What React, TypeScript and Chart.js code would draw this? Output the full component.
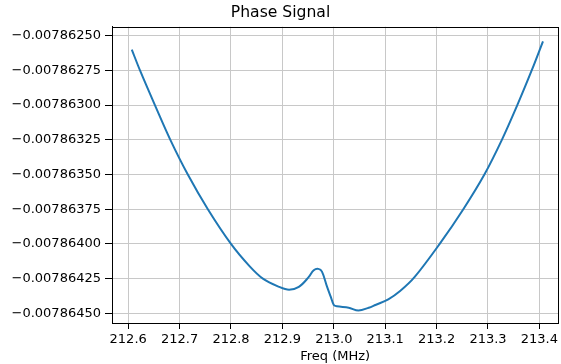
import { useEffect, useRef } from "react";
import { Chart, registerables } from "chart.js";

Chart.register(...registerables);

const freqs = [
  212.607, 212.623, 212.652, 212.682, 212.716, 212.755, 212.8, 212.836, 212.862,
  212.894, 212.913, 212.932, 212.951, 212.961, 212.97, 212.977, 212.987, 212.994,
  213.0, 213.006, 213.029, 213.048, 213.068, 213.081, 213.106, 213.129,
  213.157, 213.206, 213.252, 213.293, 213.327, 213.357, 213.385, 213.407,
];
const phase = [
  -0.0078626, -0.00786275, -0.007863, -0.00786325, -0.0078635, -0.00786375, -0.007864,
  -0.00786416, -0.00786425, -0.00786431, -0.00786433, -0.00786431, -0.00786424,
  -0.00786419, -0.00786418, -0.0078642, -0.00786431, -0.00786438, -0.00786444,
  -0.00786445, -0.00786446, -0.00786448, -0.00786446, -0.00786444, -0.0078644,
  -0.00786434, -0.00786424, -0.007864, -0.00786375, -0.0078635,
  -0.00786325, -0.007863, -0.00786275, -0.00786254,
];
const xTicks = [212.6, 212.7, 212.8, 212.9, 213.0, 213.1, 213.2, 213.3, 213.4];
const yTicks = [
  -0.0078625, -0.00786275, -0.007863, -0.00786325, -0.0078635, -0.00786375, -0.007864,
  -0.00786425, -0.0078645,
];

const FONT = "'DejaVu Sans', sans-serif";

const framePlugin = {
  id: "frame",
  afterDatasetsDraw(chart: any) {
    const { ctx, chartArea } = chart;
    ctx.save();
    ctx.strokeStyle = "#000";
    ctx.lineWidth = 1;
    ctx.strokeRect(
      Math.round(chartArea.left) + 0.5,
      Math.round(chartArea.top) + 0.5,
      Math.round(chartArea.right - chartArea.left),
      Math.round(chartArea.bottom - chartArea.top)
    );
    ctx.restore();
  },
};

export default function App() {
  const ref = useRef<HTMLCanvasElement>(null);
  useEffect(() => {
    document.body.style.margin = "0";
    const chart = new Chart(ref.current!, {
      type: "line",
      data: {
        datasets: [
          {
            data: freqs.map((f, i) => ({ x: f, y: phase[i] })),
            borderColor: "#1f77b4",
            borderWidth: 2,
            pointRadius: 0,
            tension: 0.35,
            fill: false,
          },
        ],
      },
      options: {
        animation: false,
        responsive: false,
        layout: { padding: 0 },
        plugins: {
          legend: { display: false },
          tooltip: { enabled: false },
          title: {
            display: true,
            text: "Phase Signal",
            color: "#000",
            font: { family: FONT, size: 15.6, weight: "normal" },
            padding: { top: 4, bottom: 4 },
          },
        },
        scales: {
          x: {
            type: "linear",
            min: 212.5685,
            max: 213.4368,
            afterBuildTicks: (axis: any) => {
              axis.ticks = xTicks.map((v) => ({ value: v }));
            },
            afterFit: (s: any) => {
              s.height = 41;
            },
            ticks: {
              color: "#000",
              font: { family: FONT, size: 13 },
              padding: 3,
              maxRotation: 0,
              autoSkip: false,
              callback: (v: any) => Number(v).toFixed(1),
            },
            grid: { color: "#c8c8c8", lineWidth: 1, tickColor: "#000", tickLength: 6 },
            border: { color: "#000", width: 1 },
            title: {
              display: true,
              text: "Freq (MHz)",
              color: "#000",
              font: { family: FONT, size: 13 },
              padding: { top: 0, bottom: 0 },
            },
          },
          y: {
            type: "linear",
            min: -0.00786457,
            max: -0.0078624351,
            afterBuildTicks: (axis: any) => {
              axis.ticks = yTicks.map((v) => ({ value: v }));
            },
            afterFit: (s: any) => {
              s.width = 112;
            },
            ticks: {
              color: "#000",
              font: { family: FONT, size: 13 },
              padding: 4,
              autoSkip: false,
              callback: (v: any) => "\u2212" + Math.abs(Number(v)).toFixed(8),
            },
            grid: { color: "#c8c8c8", lineWidth: 1, tickColor: "#000", tickLength: 7 },
            border: { color: "#000", width: 1 },
          },
        },
      } as any,
      plugins: [framePlugin],
    });
    return () => chart.destroy();
  }, []);
  return <canvas ref={ref} width={561} height={364} style={{ display: "block" }} />;
}
